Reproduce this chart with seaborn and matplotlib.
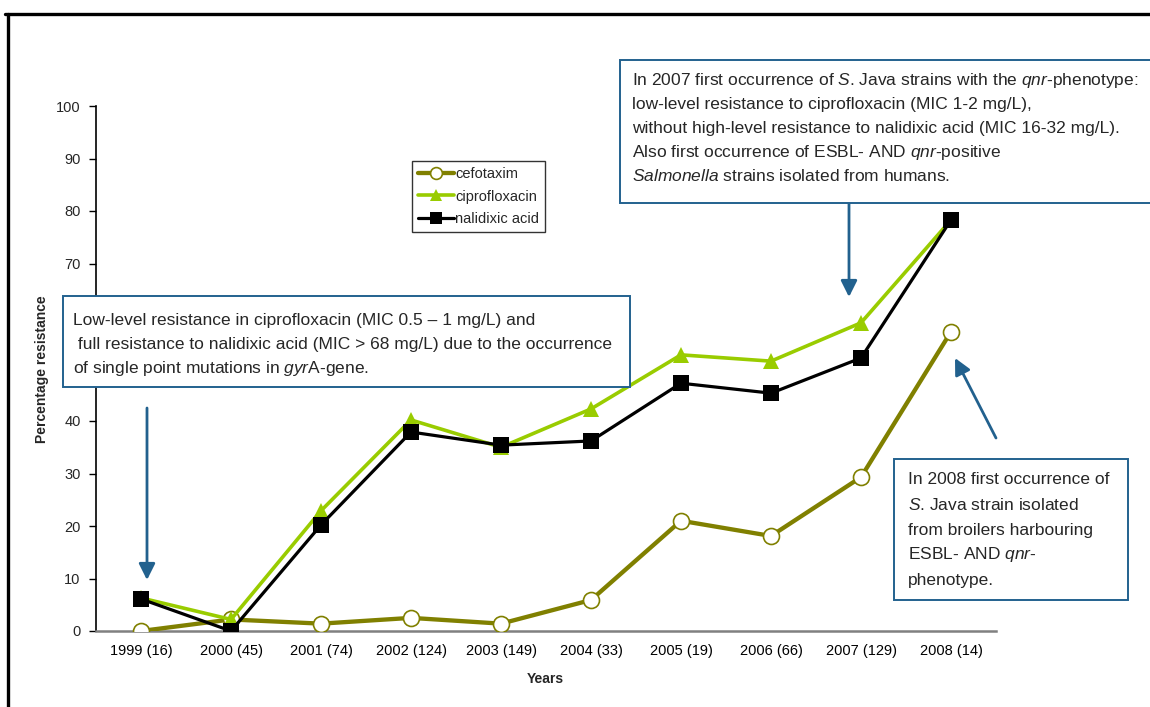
import matplotlib
matplotlib.use("Agg")
import matplotlib.pyplot as plt
from matplotlib import font_manager
from matplotlib.patches import Rectangle
from matplotlib.lines import Line2D
import seaborn as sns
import numpy as np

# ---- data -------------------------------------------------------------
years = ["1999 (16)", "2000 (45)", "2001 (74)", "2002 (124)", "2003 (149)",
         "2004 (33)", "2005 (19)", "2006 (66)", "2007 (129)", "2008 (14)"]
cefotaxim = [0.0, 2.2, 1.4, 2.5, 1.4, 5.9, 21.0, 18.1, 29.3, 57.0]
ciprofloxacin = [6.3, 2.2, 22.9, 40.2, 35.0, 42.3, 52.6, 51.4, 58.7, 78.3]
nalidixic_acid = [6.1, 0.0, 20.2, 37.9, 35.4, 36.2, 47.2, 45.3, 52.0, 78.3]
y_ticks = [0, 10, 20, 30, 40, 50, 60, 70, 80, 90, 100]
# tick values whose labels sit underneath the left note box
covered_ticks = [50, 60]

# ---- fonts -----------------------------------------------------------
sns.set_theme(style="white")
available = {f.name for f in font_manager.fontManager.ttflist}
base = "Liberation Sans" if "Liberation Sans" in available else "DejaVu Sans"
narrow = "Liberation Sans Narrow" if "Liberation Sans Narrow" in available else base
plt.rcParams["font.family"] = [base, "DejaVu Sans"]
plt.rcParams["mathtext.fontset"] = "custom"
plt.rcParams["mathtext.rm"] = narrow
plt.rcParams["mathtext.it"] = narrow + ":italic"

W, H = 1150, 707
fig = plt.figure(figsize=(W / 100, H / 100), dpi=100)
fig.patch.set_facecolor("white")

def fx(px):
    return px / W

def fy(py):
    return 1 - py / H

ax = fig.add_axes([fx(96), fy(631), fx(996) - fx(96), fy(106) - fy(631)])
ax.set_facecolor("white")

pos = np.arange(len(years))

series = [
    ("cefotaxim", cefotaxim, dict(color="#808000", lw=3.1, marker="o", ms=11.5,
                                  mfc="white", mec="#808000", mew=1.2)),
    ("ciprofloxacin", ciprofloxacin, dict(color="#99cc00", lw=2.6, marker="^", ms=12,
                                          mfc="#99cc00", mec="#99cc00", mew=0)),
    ("nalidixic acid", nalidixic_acid, dict(color="black", lw=2.3, marker="s", ms=11,
                                            mfc="black", mec="black", mew=0)),
]
for i, (name, vals, st) in enumerate(series):
    sns.lineplot(x=pos, y=vals, ax=ax, label=name, color=st["color"], linewidth=st["lw"],
                 marker=st["marker"], markersize=st["ms"], markerfacecolor=st["mfc"],
                 markeredgecolor=st["mec"], markeredgewidth=st["mew"], zorder=3 + i)

ax.set_xlim(-0.5, len(years) - 0.5)
ax.set_ylim(0, 100)
ax.set_xticks(pos)
ax.set_xticklabels(years, fontsize=10.5)
ax.set_xticks(np.arange(-0.5, len(years)), minor=True)
ax.tick_params(axis="x", which="major", length=0, pad=9, colors="black")
ax.tick_params(axis="x", which="minor", length=5, width=1, color="#808080", direction="out")
ax.set_yticks(y_ticks)
ax.set_yticklabels(["" if v in covered_ticks else str(v) for v in y_ticks], fontsize=10.5)
ax.tick_params(axis="y", length=5, width=1, color="black", direction="out", left=True, pad=6)

for s in ["top", "right"]:
    ax.spines[s].set_visible(False)
ax.spines["left"].set_color("black")
ax.spines["left"].set_linewidth(1.2)
ax.spines["bottom"].set_color("#808080")
ax.spines["bottom"].set_linewidth(1.8)
ax.grid(False)

ax.set_xlabel("")
ax.set_ylabel("")
fig.text(fx(545), fy(679), "Years", ha="center", va="center", fontsize=10, fontweight="bold")
fig.text(fx(42), fy(369), "Percentage resistance", ha="center", va="center", rotation=90,
         fontsize=10, fontweight="bold")

leg = ax.legend(loc="upper left", bbox_to_anchor=(fx(412), fy(161)),
                bbox_transform=fig.transFigure, frameon=True, fancybox=False,
                fontsize=10.5, handlelength=2.5, handletextpad=0.05,
                labelspacing=0.6, borderpad=0.4, borderaxespad=0)
leg.get_frame().set_edgecolor("black")
leg.get_frame().set_linewidth(1.0)
for h in leg.legend_handles:
    h.set_markersize(8.5)

# ---- outer frame -----------------------------------------------------
fig.add_artist(Line2D([fx(5), 1.0], [fy(14), fy(14)], color="black", lw=2.4,
                      transform=fig.transFigure))
fig.add_artist(Line2D([fx(8), fx(8)], [fy(14), 0.0], color="black", lw=2.4,
                      transform=fig.transFigure))

# ---- annotation boxes --------------------------------------------------
box_col = "#22618e"
txt_size = 12.5

def add_box(x0, y0, x1, y1):
    fig.add_artist(Rectangle((fx(x0), fy(y1)), fx(x1) - fx(x0), fy(y0) - fy(y1),
                             transform=fig.transFigure, facecolor="white",
                             edgecolor=box_col, lw=1.4, zorder=5))

def add_lines(x, ys, lines):
    for y, t in zip(ys, lines):
        fig.text(fx(x), fy(y), t, ha="left", va="center", fontsize=txt_size,
                 family=[narrow, "DejaVu Sans"], zorder=6)

add_box(63, 296, 630, 387)
add_lines(73, [321, 345, 368], [
    r"Low-level resistance in ciprofloxacin (MIC 0.5 – 1 mg/L) and",
    r" full resistance to nalidixic acid (MIC > 68 mg/L) due to the occurrence",
    r"of single point mutations in $\mathit{gyr}$A-gene.",
])

add_box(620, 60, 1160, 203)
add_lines(632, [80, 104, 128, 152, 176], [
    r"In 2007 first occurrence of $\mathit{S}$. Java strains with the $\mathit{qnr}$-phenotype:",
    r"low-level resistance to ciprofloxacin (MIC 1-2 mg/L),",
    r"without high-level resistance to nalidixic acid (MIC 16-32 mg/L).",
    r"Also first occurrence of ESBL- AND $\mathit{qnr}$-positive",
    r"$\mathit{Salmonella}$ strains isolated from humans.",
])

add_box(894, 459, 1128, 600)
add_lines(908, [480, 505, 530, 555, 580], [
    r"In 2008 first occurrence of",
    r"$\mathit{S}$. Java strain isolated",
    r"from broilers harbouring",
    r"ESBL- AND $\mathit{qnr}$-",
    r"phenotype.",
])

# ---- arrows -------------------------------------------------------------
arrow_kw = dict(arrowstyle="-|>,head_length=0.7,head_width=0.35", color=box_col,
                lw=2.0, shrinkA=0, shrinkB=0, mutation_scale=14)
for (x0, y0), (x1, y1) in [((147, 408), (147, 580)),
                           ((849, 196), (849, 297)),
                           ((996, 438), (955, 358))]:
    ax.annotate("", xy=(x1, H - y1), xycoords="figure pixels",
                xytext=(x0, H - y0), textcoords="figure pixels",
                arrowprops=arrow_kw, annotation_clip=False)

fig.savefig("out.png", dpi=100)
